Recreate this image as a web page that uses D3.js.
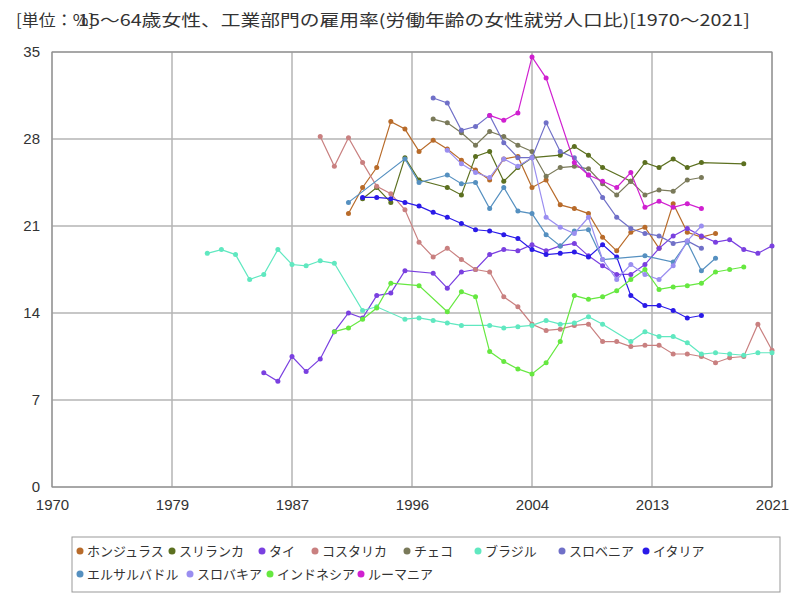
<!DOCTYPE html><html><head><meta charset="utf-8">
<script src="https://cdn.jsdelivr.net/npm/d3@7"></script>
<style>body{margin:0;background:#fff;font-family:"Noto Sans CJK JP","Noto Sans",sans-serif}</style></head><body>
<svg id="c" width="800" height="600"></svg>
<script>
const names=["ホンジュラス","スリランカ","タイ","コスタリカ","チェコ","ブラジル","スロベニア","イタリア","エルサルバドル","スロバキア","インドネシア","ルーマニア"];
const colors=["#b86b2a","#5c7020","#7a40e0","#c98080","#7a7a5a","#60e8c0","#7070c8","#2a1ae8","#5590c0","#9a8ef0","#66e840","#d020d0"];
const honduras=[[1991,22.0],[1992,24.1],[1993,25.7],[1994,29.4],[1995,28.8],[1996,27.0],[1997,27.9],[1998,27.2],[1999,26.3],[2000,25.5],[2001,24.7],[2002,26.4],[2003,26.6],[2004,24.1],[2005,24.7],[2006,22.7],[2007,22.4],[2008,22.0],[2009,20.1],[2010,19.0],[2011,20.5],[2012,20.9],[2013,19.2],[2014,22.8],[2015,20.5],[2016,20.1],[2017,20.4]];
const sriLanka=[[1992,23.2],[1993,24.1],[1994,22.9],[1995,26.5],[1996,24.7],[1998,24.1],[1999,23.5],[2000,26.6],[2001,27.0],[2002,24.6],[2003,25.7],[2004,26.5],[2006,26.7],[2007,27.4],[2008,26.7],[2009,25.7],[2011,24.6],[2012,26.1],[2013,25.7],[2014,26.4],[2015,25.7],[2016,26.1],[2019,26.0]];
const thailand=[[1985,9.2],[1986,8.5],[1987,10.5],[1988,9.3],[1989,10.3],[1990,12.5],[1991,14.0],[1992,13.6],[1993,15.4],[1994,15.6],[1995,17.4],[1997,17.2],[1998,16.0],[1999,17.3],[2000,17.5],[2001,18.7],[2002,19.1],[2003,19.0],[2004,19.5],[2005,19.0],[2006,19.4],[2007,19.6],[2008,18.6],[2009,17.8],[2010,17.1],[2011,17.1],[2012,17.9],[2013,19.2],[2014,20.2],[2015,20.8],[2016,20.2],[2017,19.7],[2018,19.9],[2019,19.1],[2020,18.8],[2021,19.4]];
const costaRica=[[1989,28.2],[1990,25.8],[1991,28.1],[1992,26.1],[1993,24.2],[1994,23.6],[1995,22.3],[1996,19.7],[1997,18.5],[1998,19.2],[1999,18.3],[2000,17.5],[2001,17.3],[2002,15.3],[2003,14.5],[2004,13.1],[2005,12.6],[2006,12.7],[2007,13.0],[2008,13.1],[2009,11.7],[2010,11.7],[2011,11.3],[2012,11.4],[2013,11.4],[2014,10.7],[2015,10.7],[2016,10.5],[2017,10.0],[2018,10.4],[2019,10.5],[2020,13.1],[2021,11.0]];
const czech=[[1997,29.6],[1998,29.3],[1999,28.5],[2000,27.5],[2001,28.6],[2002,28.2],[2003,27.5],[2004,27.0],[2005,25.0],[2006,25.7],[2007,25.8],[2008,25.6],[2009,24.4],[2010,23.5],[2011,24.6],[2012,23.5],[2013,23.9],[2014,23.8],[2015,24.7],[2016,24.9]];
const brazil=[[1981,18.8],[1982,19.1],[1983,18.7],[1984,16.7],[1985,17.1],[1986,19.1],[1987,17.9],[1988,17.8],[1989,18.2],[1990,18.0],[1992,14.2],[1993,14.5],[1995,13.5],[1996,13.6],[1997,13.4],[1998,13.2],[1999,13.0],[2001,13.0],[2002,12.8],[2003,12.9],[2004,13.0],[2005,13.4],[2006,13.1],[2007,13.2],[2008,13.7],[2009,13.1],[2011,11.7],[2012,12.5],[2013,12.1],[2014,12.1],[2015,11.6],[2016,10.7],[2017,10.8],[2018,10.7],[2019,10.6],[2020,10.8],[2021,10.8]];
const slovenia=[[1997,31.3],[1998,30.9],[1999,28.7],[2000,29.0],[2001,29.9],[2002,27.7],[2003,26.5],[2004,26.5],[2005,29.3],[2006,27.0],[2007,26.5],[2008,25.1],[2009,23.3],[2010,21.7],[2011,20.8],[2012,20.4],[2013,20.2],[2014,19.6],[2015,19.8],[2016,19.2]];
const italy=[[1992,23.3],[1993,23.3],[1994,23.2],[1995,22.9],[1996,22.6],[1997,22.1],[1998,21.7],[1999,21.2],[2000,20.7],[2001,20.6],[2002,20.3],[2003,20.0],[2004,19.1],[2005,18.7],[2006,18.8],[2007,18.9],[2008,18.5],[2009,19.5],[2010,18.5],[2011,15.4],[2012,14.6],[2013,14.6],[2014,14.2],[2015,13.6],[2016,13.8]];
const elSalvador=[[1991,22.9],[1995,26.4],[1996,24.5],[1998,25.1],[1999,24.4],[2000,24.5],[2001,22.4],[2002,24.1],[2003,22.2],[2004,22.0],[2005,20.3],[2006,19.4],[2007,20.6],[2008,20.7],[2009,18.3],[2012,18.6],[2014,18.1],[2015,19.7],[2016,17.4],[2017,18.4]];
const slovakia=[[1998,27.1],[1999,26.0],[2000,25.3],[2001,24.9],[2002,26.4],[2003,25.8],[2004,26.5],[2005,21.7],[2006,20.9],[2007,20.4],[2008,21.7],[2009,18.3],[2010,16.7],[2011,17.9],[2012,17.1],[2013,16.7],[2014,17.8],[2015,19.8],[2016,21.0]];
const indonesia=[[1990,12.5],[1991,12.8],[1992,13.5],[1993,14.4],[1994,16.4],[1996,16.2],[1998,14.1],[1999,15.7],[2000,15.3],[2001,10.9],[2002,10.1],[2003,9.5],[2004,9.1],[2005,10.0],[2006,11.7],[2007,15.4],[2008,15.1],[2009,15.3],[2010,15.8],[2011,16.7],[2012,17.5],[2013,15.9],[2014,16.1],[2015,16.2],[2016,16.4],[2017,17.3],[2018,17.5],[2019,17.7]];
const romania=[[2001,29.9],[2002,29.5],[2003,30.1],[2004,34.6],[2005,32.9],[2007,26.1],[2008,25.1],[2009,24.6],[2010,24.1],[2011,25.3],[2012,22.5],[2013,23.0],[2014,22.5],[2015,22.8],[2016,22.4]];
const series=[honduras,sriLanka,thailand,costaRica,czech,brazil,slovenia,italy,elSalvador,slovakia,indonesia,romania];
const yTicks=[0,7,14,21,28,35];
const svg=d3.select("#c");
const x=d3.scaleLinear().domain([1970,2021]).range([52,772]);
const y=d3.scaleLinear().domain([0,35]).range([487,52]);
const xt=d3.range(7).map(i=>1970+i*51/6);
const g=svg.append("g");
g.selectAll(".vx").data(xt).join("line").attr("x1",d=>x(d)).attr("x2",d=>x(d)).attr("y1",52).attr("y2",487).attr("stroke","#b4b4b4").attr("stroke-width",1.5);
g.selectAll(".hy").data(yTicks).join("line").attr("x1",52).attr("x2",772).attr("y1",d=>y(d)).attr("y2",d=>y(d)).attr("stroke","#b4b4b4").attr("stroke-width",1.5);
g.append("rect").attr("x",52).attr("y",52).attr("width",720).attr("height",435).attr("fill","none").attr("stroke","#888");
svg.append("g").attr("transform","translate(0,487)").call(d3.axisBottom(x).tickValues(xt).tickFormat(d=>Math.round(d)).tickSize(0).tickPadding(12)).call(a=>a.select(".domain").remove()).selectAll("text").attr("font-size",15).attr("fill","#333");
svg.append("g").attr("transform","translate(52,0)").call(d3.axisLeft(y).tickValues(yTicks).tickSize(0).tickPadding(12)).call(a=>a.select(".domain").remove()).selectAll("text").attr("font-size",15).attr("fill","#333");
const line=d3.line().x(d=>x(d[0])).y(d=>y(d[1]));
series.forEach((s,i)=>{
  svg.append("path").datum(s).attr("d",line).attr("fill","none").attr("stroke",colors[i]).attr("stroke-width",1.2);
  svg.append("g").selectAll("circle").data(s).join("circle").attr("cx",d=>x(d[0])).attr("cy",d=>y(d[1])).attr("r",2.5).attr("fill",colors[i]);
});
svg.append("text").attr("x",78).attr("y",26).attr("font-size",16).attr("fill","#333").attr("textLength",672).attr("lengthAdjust","spacingAndGlyphs").text("15～64歳女性、工業部門の雇用率(労働年齢の女性就労人口比)[1970～2021]");
svg.append("text").attr("x",16).attr("y",26).attr("font-size",16).attr("fill","#333").attr("textLength",78).attr("lengthAdjust","spacingAndGlyphs").text("[単位：%]");
svg.append("rect").attr("x",72).attr("y",537).attr("width",708).attr("height",55).attr("fill","#fff").attr("stroke","#999");
names.forEach((n,i)=>{
  const row=i<8?0:1, cx=[80,172,262,315,407,478,562,646,80,190,270,361][i];
  const cy=row?574:551;
  svg.append("circle").attr("cx",cx).attr("cy",cy).attr("r",3.5).attr("fill",colors[i]);
  svg.append("text").attr("x",cx+7).attr("y",cy+5).attr("font-size",13).attr("fill","#333").text(n);
});
</script></body></html>
